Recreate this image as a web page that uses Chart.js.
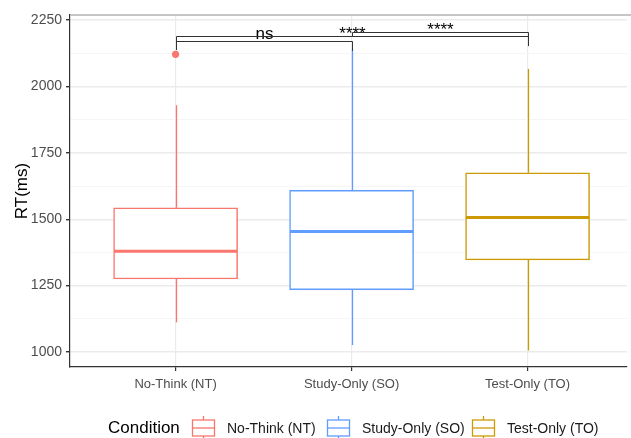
<!DOCTYPE html>
<html>
<head>
<meta charset="utf-8">
<script src="https://cdn.jsdelivr.net/npm/chart.js@4/dist/chart.umd.min.js"></script>
<style>
  html, body { margin: 0; padding: 0; background: #fff; }
  #wrap { width: 631px; height: 438px; position: relative; }
</style>
</head>
<body>
<div id="wrap"><canvas id="rtChart"></canvas></div>
<script>
// ===== DATA =====
const categories = ["No-Think (NT)", "Study-Only (SO)", "Test-Only (TO)"];
const colors = ["#F8766D", "#619CFF", "#CC9A06"];
const whiskerLow = [1112, 1026, 1006];
const q1 = [1275, 1235, 1347];
const median = [1379, 1454, 1506];
const q3 = [1543, 1609, 1675];
const whiskerHigh = [1929, 2140, 2066];
const outlierValues = [[2121], [], []];

const yMajor = [1000, 1250, 1500, 1750, 2000, 2250];
const yMinor = [1125, 1375, 1625, 1875, 2125];

// comparisons: [group a, group b], bracket height, tip bottoms, label
const bracketPairs = [[1, 2], [1, 3], [2, 3]];
const bracketY = [2171, 2190, 2205];
const bracketTips = [[2137, 2134], [2137, 2152], [2190, 2152]];
const bracketLabels = ["ns", "****", "****"];

const FONT = "'Liberation Sans', Arial, sans-serif";
Chart.defaults.font.family = FONT;

// ===== BOXPLOT EXTRAS (whiskers, medians, brackets, legend) =====
const boxExtras = {
  id: "boxExtras",
  beforeDatasetsDraw(chart) {
    const { ctx, scales: { x, y } } = chart;
    ctx.save();
    // whiskers
    ctx.lineWidth = 1.3;
    categories.forEach((c, i) => {
      const px = Math.round(x.getPixelForValue(i + 1)) + 0.5;
      ctx.strokeStyle = colors[i];
      ctx.beginPath();
      ctx.moveTo(px, y.getPixelForValue(whiskerLow[i]));
      ctx.lineTo(px, y.getPixelForValue(q1[i]));
      ctx.moveTo(px, y.getPixelForValue(q3[i]));
      ctx.lineTo(px, y.getPixelForValue(whiskerHigh[i]));
      ctx.stroke();
    });
    ctx.restore();
  },
  afterDatasetsDraw(chart) {
    const { ctx, chartArea, scales: { x, y } } = chart;
    ctx.save();
    // medians
    categories.forEach((c, i) => {
      const x0 = x.getPixelForValue(i + 1 - 0.35);
      const x1 = x.getPixelForValue(i + 1 + 0.35);
      const py = y.getPixelForValue(median[i]);
      ctx.strokeStyle = colors[i];
      ctx.lineWidth = 3;
      ctx.beginPath();
      ctx.moveTo(x0, py);
      ctx.lineTo(x1, py);
      ctx.stroke();
    });

    // top border
    ctx.strokeStyle = "#b3b3b3";
    ctx.lineWidth = 1.5;
    ctx.beginPath();
    ctx.moveTo(chartArea.left, chartArea.top);
    ctx.lineTo(chartArea.right + 4, chartArea.top);
    ctx.stroke();

    // significance brackets
    ctx.strokeStyle = "#333";
    ctx.lineWidth = 1;
    ctx.fillStyle = "#000";
    ctx.font = "17px " + FONT;
    ctx.textAlign = "center";
    ctx.textBaseline = "alphabetic";
    bracketPairs.forEach((p, i) => {
      const xa = Math.round(x.getPixelForValue(p[0])) + 0.5;
      const xb = Math.round(x.getPixelForValue(p[1])) + 0.5;
      const yl = Math.round(y.getPixelForValue(bracketY[i])) + 0.5;
      ctx.beginPath();
      ctx.moveTo(xa, y.getPixelForValue(bracketTips[i][0]));
      ctx.lineTo(xa, yl);
      ctx.lineTo(xb, yl);
      ctx.lineTo(xb, y.getPixelForValue(bracketTips[i][1]));
      ctx.stroke();
      const lx = (xa + xb) / 2;
      const ly = bracketLabels[i] === "ns" ? yl - 3 : yl + 2;
      ctx.fillText(bracketLabels[i], lx, ly);
    });

    // legend
    const ly = 428;
    ctx.textAlign = "left";
    ctx.textBaseline = "middle";
    ctx.fillStyle = "#000";
    ctx.font = "17px " + FONT;
    ctx.fillText("Condition", 108, ly);
    const keyX = [192, 327, 472];
    ctx.font = "14px " + FONT;
    categories.forEach((c, i) => {
      const kx = keyX[i];
      const cx = kx + 11.5;
      ctx.strokeStyle = colors[i];
      ctx.lineWidth = 1.3;
      ctx.beginPath();
      ctx.moveTo(cx, ly - 12);
      ctx.lineTo(cx, ly - 8);
      ctx.moveTo(cx, ly + 8);
      ctx.lineTo(cx, ly + 12);
      ctx.stroke();
      ctx.strokeRect(kx + 0.5, ly - 8, 22, 16);
      ctx.beginPath();
      ctx.moveTo(kx, ly);
      ctx.lineTo(kx + 23, ly);
      ctx.stroke();
      ctx.fillStyle = "#1a1a1a";
      ctx.fillText(c, kx + 35, ly + 1);
    });
    ctx.restore();
  }
};

// ===== CHART =====
const ctx1 = document.getElementById("rtChart").getContext("2d");
const rtChart = new Chart(ctx1, {
  type: "bar",
  data: {
    datasets: [{
      type: "bar",
      label: "box",
      data: categories.map((c, i) => ({ x: i + 1, y: [q1[i], q3[i]] })),
      backgroundColor: "#fff",
      borderColor: colors,
      borderWidth: 1.5,
      borderSkipped: false,
      barThickness: 124,
    }, {
      type: "scatter",
      label: "outliers",
      data: outlierValues.flatMap((vals, i) => vals.map(v => ({ x: i + 1, y: v }))),
      backgroundColor: outlierValues.flatMap((vals, i) => vals.map(() => colors[i])),
      borderWidth: 0,
      pointRadius: 3.6,
    }],
  },
  options: {
    responsive: true,
    maintainAspectRatio: false,
    animation: false,
    layout: { padding: { top: 15, right: 0, bottom: 41, left: 0 } },
    plugins: {
      legend: { display: false },
      tooltip: { enabled: false },
    },
    scales: {
      x: {
        type: "linear",
        min: 0.4,
        max: 3.565,
        offset: false,
        afterBuildTicks: (scale) => { scale.ticks = categories.map((c, i) => ({ value: i + 1 })); },
        afterFit: (scale) => { scale.height = 30; },
        ticks: {
          callback: (v) => categories[v - 1] || "",
          color: "#4d4d4d",
          font: { size: 13 },
          padding: 6,
          maxRotation: 0,
        },
        grid: {
          offset: false,
          color: "#ebebeb",
          lineWidth: 1.2,
          tickColor: "#333",
          tickLength: 4,
        },
        border: { color: "#333", width: 1.2 },
      },
      y: {
        min: 943.5,
        max: 2269,
        afterBuildTicks: (scale) => {
          scale.ticks = yMajor.concat(yMinor).sort((a, b) => a - b).map(v => ({ value: v }));
        },
        afterFit: (scale) => { scale.width = 70; },
        ticks: {
          callback: (v) => yMajor.includes(v) ? String(v) : "",
          color: "#4d4d4d",
          font: { size: 14 },
          padding: 4,
        },
        grid: {
          color: (c) => c.tick && yMajor.includes(c.tick.value) ? "#ebebeb" : "#f5f5f5",
          lineWidth: (c) => c.tick && yMajor.includes(c.tick.value) ? 1.4 : 1,
          tickColor: (c) => c.tick && yMajor.includes(c.tick.value) ? "#333" : "rgba(0,0,0,0)",
          tickLength: 4,
        },
        border: { color: "#333", width: 1.2 },
        title: {
          display: true,
          text: "RT(ms)",
          color: "#000",
          font: { size: 17 },
          padding: { top: 12, bottom: 0 },
        },
      },
    },
  },
  plugins: [boxExtras],
});
</script>
</body>
</html>
